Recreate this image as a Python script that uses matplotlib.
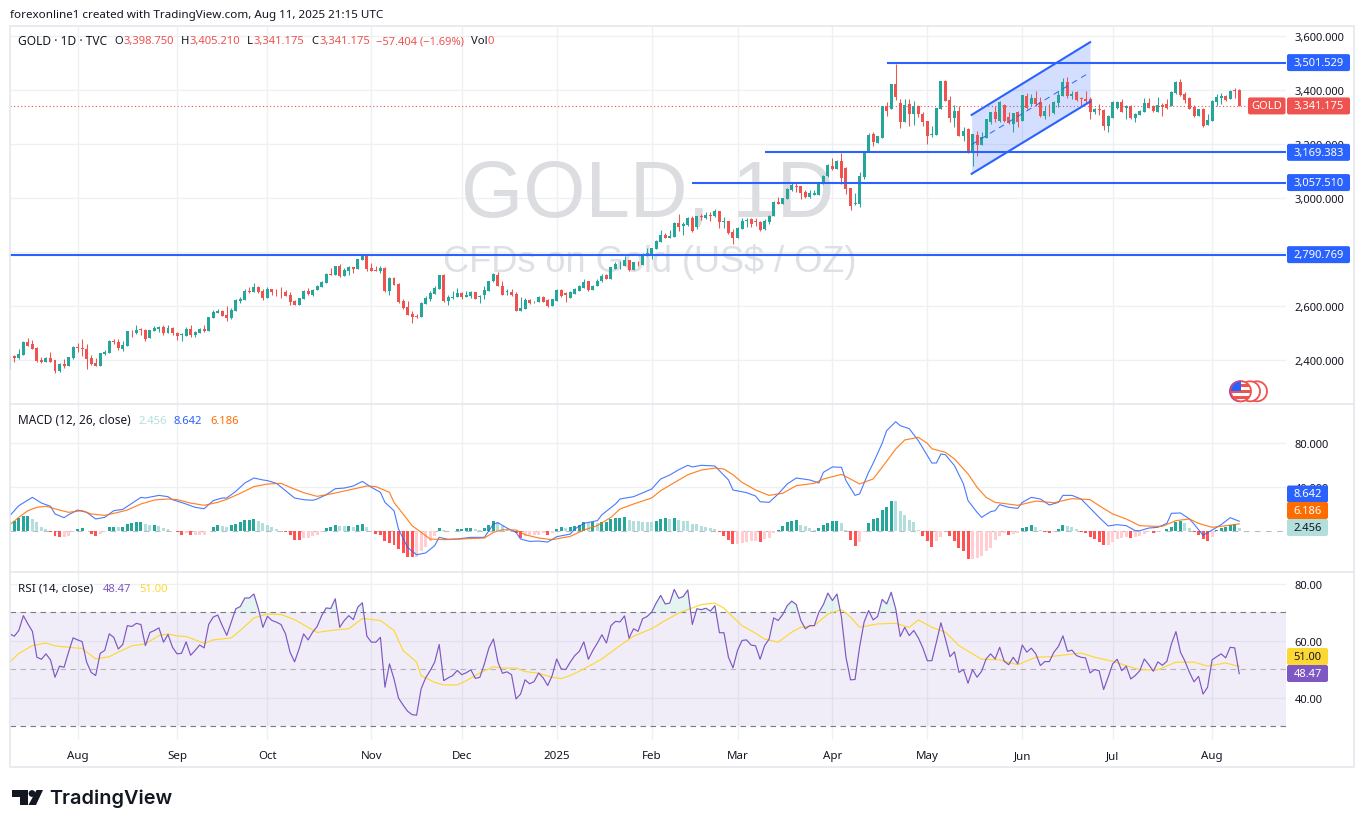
import matplotlib
matplotlib.use("Agg")
import matplotlib.pyplot as plt
import numpy as np
from matplotlib.patches import Circle, FancyBboxPatch, Polygon, Rectangle

plt.rcParams["font.family"] = ["Noto Sans", "DejaVu Sans"]

W, H = 1364, 829

opens = [
    2390, 2417, 2409, 2421, 2468, 2461, 2447, 2401, 2394, 2408,
    2399, 2361, 2385, 2379, 2409, 2450, 2446, 2442, 2408, 2390,
    2379, 2424, 2427, 2472, 2468, 2442, 2453, 2510, 2501, 2514,
    2512, 2483, 2509, 2516, 2523, 2501, 2520, 2501, 2494, 2490,
    2516, 2494, 2501, 2516, 2509, 2558, 2576, 2583, 2568, 2557,
    2583, 2620, 2623, 2657, 2653, 2671, 2657, 2631, 2664, 2657,
    2657, 2653, 2642, 2620, 2605, 2627, 2657, 2642, 2660, 2671,
    2686, 2720, 2716, 2749, 2712, 2731, 2745, 2738, 2771, 2790,
    2742, 2734, 2731, 2742, 2657, 2705, 2683, 2620, 2597, 2572,
    2564, 2560, 2609, 2627, 2646, 2664, 2716, 2620, 2632, 2635,
    2649, 2635, 2637, 2651, 2633, 2643, 2657, 2692, 2717, 2676,
    2652, 2652, 2646, 2584, 2590, 2623, 2614, 2617, 2634, 2622,
    2602, 2621, 2659, 2647, 2631, 2646, 2658, 2667, 2692, 2660,
    2675, 2692, 2716, 2701, 2739, 2755, 2749, 2771, 2734, 2760,
    2753, 2794, 2790, 2810, 2839, 2864, 2854, 2855, 2908, 2896,
    2901, 2927, 2892, 2933, 2926, 2938, 2932, 2953, 2912, 2916,
    2875, 2853, 2886, 2914, 2921, 2916, 2912, 2885, 2912, 2932,
    2986, 2979, 2997, 3030, 3045, 3043, 3023, 3004, 3013, 3013,
    3052, 3080, 3119, 3106, 3138, 3113, 3038, 2978, 2979, 3077,
    3170, 3236, 3204, 3224, 3340, 3328, 3424, 3352, 3283, 3347,
    3313, 3342, 3312, 3286, 3234, 3234, 3330, 3435, 3363, 3296,
    3323, 3229, 3255, 3170, 3234, 3197, 3224, 3283, 3318, 3287,
    3345, 3299, 3275, 3318, 3287, 3379, 3347, 3371, 3357, 3303,
    3324, 3315, 3352, 3379, 3429, 3379, 3392, 3369, 3365, 3367,
    3320, 3330, 3326, 3266, 3297, 3332, 3357, 3332, 3340, 3297,
    3309, 3320, 3352, 3342, 3320, 3345, 3349, 3340, 3388, 3431,
    3386, 3369, 3337, 3305, 3330, 3271, 3286, 3357, 3369, 3379,
    3365, 3400, 3398.75,
]
highs = [
    2415, 2420, 2442, 2472, 2483, 2475, 2448, 2412, 2412, 2431,
    2400, 2390, 2405, 2412, 2452, 2464, 2479, 2461, 2420, 2409,
    2427, 2437, 2474, 2479, 2479, 2473, 2509, 2511, 2531, 2520,
    2516, 2512, 2527, 2527, 2531, 2531, 2523, 2506, 2501, 2523,
    2531, 2509, 2520, 2531, 2560, 2586, 2590, 2586, 2601, 2594,
    2627, 2634, 2664, 2671, 2686, 2675, 2664, 2671, 2664, 2664,
    2671, 2660, 2653, 2623, 2631, 2660, 2668, 2664, 2679, 2694,
    2723, 2742, 2749, 2757, 2742, 2749, 2745, 2775, 2792, 2792,
    2760, 2749, 2749, 2745, 2708, 2708, 2686, 2627, 2620, 2583,
    2572, 2616, 2638, 2657, 2675, 2716, 2720, 2642, 2655, 2668,
    2654, 2655, 2657, 2653, 2643, 2676, 2692, 2723, 2726, 2694,
    2664, 2662, 2652, 2633, 2630, 2628, 2621, 2637, 2638, 2626,
    2627, 2662, 2664, 2654, 2658, 2667, 2679, 2699, 2695, 2678,
    2699, 2718, 2718, 2746, 2763, 2768, 2787, 2771, 2764, 2769,
    2797, 2815, 2815, 2845, 2881, 2871, 2882, 2910, 2942, 2910,
    2929, 2935, 2935, 2940, 2950, 2948, 2958, 2953, 2929, 2916,
    2886, 2893, 2926, 2928, 2928, 2928, 2914, 2921, 2938, 2990,
    3004, 3002, 3037, 3056, 3059, 3044, 3030, 3030, 3030, 3056,
    3085, 3127, 3149, 3140, 3167, 3115, 3038, 3020, 3098, 3173,
    3240, 3244, 3229, 3340, 3355, 3424, 3498, 3367, 3365, 3367,
    3361, 3345, 3320, 3286, 3268, 3334, 3435, 3438, 3379, 3345,
    3340, 3262, 3259, 3238, 3250, 3246, 3291, 3320, 3342, 3360,
    3348, 3318, 3315, 3322, 3382, 3389, 3386, 3398, 3373, 3342,
    3348, 3360, 3398, 3445, 3447, 3398, 3395, 3373, 3397, 3373,
    3332, 3347, 3330, 3308, 3358, 3361, 3365, 3345, 3344, 3315,
    3325, 3369, 3369, 3345, 3373, 3352, 3365, 3396, 3435, 3439,
    3392, 3373, 3345, 3330, 3332, 3312, 3362, 3386, 3389, 3382,
    3400, 3409, 3405.21,
]
lows = [
    2368, 2395, 2403, 2420, 2453, 2442, 2395, 2388, 2392, 2394,
    2353, 2358, 2373, 2379, 2406, 2431, 2414, 2366, 2383, 2379,
    2379, 2420, 2425, 2461, 2438, 2435, 2453, 2486, 2498, 2495,
    2472, 2483, 2509, 2506, 2494, 2501, 2494, 2475, 2472, 2490,
    2486, 2486, 2501, 2505, 2509, 2557, 2576, 2562, 2546, 2553,
    2583, 2612, 2623, 2649, 2653, 2649, 2623, 2631, 2642, 2638,
    2631, 2638, 2605, 2605, 2605, 2627, 2642, 2638, 2660, 2671,
    2686, 2716, 2716, 2708, 2712, 2716, 2723, 2738, 2771, 2731,
    2731, 2731, 2723, 2653, 2642, 2679, 2612, 2590, 2568, 2538,
    2557, 2560, 2609, 2620, 2646, 2664, 2616, 2605, 2627, 2635,
    2625, 2635, 2630, 2625, 2612, 2627, 2657, 2689, 2675, 2643,
    2643, 2637, 2584, 2584, 2590, 2609, 2610, 2615, 2614, 2598,
    2602, 2618, 2633, 2617, 2631, 2646, 2658, 2667, 2657, 2660,
    2673, 2689, 2699, 2701, 2737, 2738, 2749, 2731, 2734, 2748,
    2753, 2787, 2773, 2810, 2837, 2852, 2852, 2855, 2880, 2865,
    2898, 2876, 2886, 2920, 2923, 2917, 2929, 2889, 2891, 2866,
    2831, 2852, 2884, 2893, 2892, 2898, 2880, 2881, 2905, 2932,
    2979, 2979, 2997, 3028, 3022, 2997, 3002, 3002, 3011, 3013,
    3052, 3077, 3104, 3106, 3052, 3016, 2956, 2975, 2967, 3071,
    3170, 3194, 3204, 3224, 3303, 3328, 3363, 3261, 3283, 3266,
    3271, 3300, 3266, 3201, 3225, 3234, 3330, 3361, 3283, 3262,
    3229, 3213, 3167, 3120, 3155, 3197, 3224, 3275, 3281, 3281,
    3280, 3276, 3244, 3265, 3287, 3330, 3340, 3340, 3299, 3293,
    3303, 3313, 3336, 3379, 3370, 3365, 3361, 3340, 3349, 3293,
    3312, 3308, 3252, 3246, 3297, 3330, 3318, 3291, 3292, 3283,
    3309, 3320, 3334, 3319, 3320, 3305, 3330, 3340, 3385, 3379,
    3352, 3328, 3299, 3305, 3265, 3271, 3286, 3340, 3349, 3360,
    3365, 3370, 3341.175,
]
closes = [
    2410, 2409, 2424, 2468, 2453, 2442, 2398, 2394, 2408, 2394,
    2361, 2387, 2379, 2412, 2450, 2447, 2440, 2405, 2387, 2379,
    2427, 2431, 2472, 2469, 2446, 2457, 2509, 2507, 2511, 2511,
    2479, 2512, 2520, 2523, 2501, 2520, 2501, 2491, 2495, 2516,
    2493, 2505, 2516, 2509, 2560, 2579, 2583, 2564, 2557, 2586,
    2623, 2627, 2657, 2654, 2671, 2654, 2631, 2664, 2653, 2655,
    2655, 2638, 2616, 2605, 2631, 2657, 2644, 2660, 2675, 2690,
    2720, 2717, 2749, 2711, 2734, 2745, 2738, 2775, 2790, 2738,
    2731, 2732, 2742, 2657, 2705, 2679, 2616, 2594, 2568, 2560,
    2559, 2612, 2631, 2649, 2668, 2716, 2620, 2634, 2634, 2649,
    2635, 2642, 2651, 2628, 2636, 2659, 2692, 2718, 2675, 2643,
    2654, 2642, 2584, 2594, 2623, 2610, 2617, 2635, 2616, 2600,
    2625, 2659, 2636, 2643, 2651, 2663, 2673, 2691, 2659, 2675,
    2695, 2712, 2699, 2746, 2757, 2757, 2771, 2733, 2764, 2758,
    2795, 2797, 2815, 2843, 2864, 2854, 2860, 2908, 2892, 2905,
    2927, 2879, 2932, 2930, 2938, 2935, 2953, 2911, 2914, 2870,
    2853, 2891, 2916, 2918, 2905, 2912, 2882, 2916, 2935, 2987,
    2979, 3001, 3035, 3049, 3041, 3019, 3004, 3019, 3018, 3056,
    3083, 3123, 3107, 3139, 3075, 3034, 2972, 2982, 3082, 3173,
    3234, 3207, 3229, 3340, 3323, 3424, 3374, 3283, 3345, 3313,
    3342, 3312, 3283, 3231, 3236, 3334, 3435, 3361, 3296, 3321,
    3231, 3249, 3170, 3238, 3197, 3225, 3291, 3318, 3291, 3357,
    3287, 3278, 3315, 3283, 3382, 3333, 3371, 3347, 3305, 3323,
    3321, 3357, 3382, 3429, 3379, 3386, 3362, 3366, 3361, 3318,
    3330, 3325, 3268, 3303, 3355, 3355, 3318, 3340, 3296, 3312,
    3323, 3351, 3335, 3321, 3345, 3336, 3332, 3394, 3431, 3382,
    3362, 3330, 3305, 3328, 3268, 3288, 3360, 3373, 3379, 3363,
    3398, 3398, 3341.175,
]

macd_hist = [
    9.2, 9.2, 11.6, 13.1, 13.1, 11.0, 8.2, 3.7, 1.5, -1.2,
    -4.9, -5.8, -5.8, -4.6, -1.5, 1.5, 2.4, -0.6, -3.1, -4.6,
    -2.7, -1.5, 3.1, 3.7, 3.1, 3.1, 6.1, 7.0, 7.9, 7.9,
    6.1, 4.9, 4.9, 4.0, 2.4, 1.8, 0.1, -1.5, -3.7, -2.1,
    -4.0, -4.0, -3.9, -3.8, 0.1, 3.7, 5.5, 4.3, 3.7, 4.9,
    6.1, 7.6, 10.1, 10.2, 10.7, 9.2, 6.7, 5.5, 3.7, 1.5,
    -0.3, -1.5, -4.3, -8.2, -8.5, -6.7, -6.6, -5.2, -4.0, -1.5,
    2.4, 3.7, 5.2, 4.3, 4.2, 4.3, 3.7, 5.2, 6.1, 3.1,
    -0.6, -3.1, -3.7, -9.8, -11.0, -12.8, -16.8, -20.7, -23.8, -24.4,
    -24.3, -18.3, -14.6, -9.8, -4.6, 2.4, 0.6, -0.6, -0.5, 1.5,
    1.6, 2.1, 2.4, 1.2, 0.9, 2.4, 5.5, 9.2, 7.6, 4.3,
    1.5, -0.6, -2.4, -6.7, -4.6, -4.0, -3.9, -3.8, -2.1, -3.7,
    -2.1, 1.8, 3.1, 2.4, 3.7, 4.6, 5.5, 7.9, 7.3, 7.6,
    7.3, 7.9, 8.2, 10.7, 11.6, 11.7, 12.2, 9.8, 9.2, 8.5,
    8.2, 8.1, 7.6, 9.2, 11.0, 11.6, 11.0, 11.5, 9.8, 9.2,
    8.5, 6.1, 6.0, 4.3, 3.1, 2.7, 1.5, -0.9, -4.6, -8.5,
    -12.2, -12.2, -11.3, -10.1, -9.2, -9.2, -10.1, -7.6, -6.7, -2.4,
    0.9, 4.0, 7.6, 9.2, 9.8, 5.5, 4.3, 2.4, 0.9, 2.4,
    5.2, 7.3, 8.5, 8.6, 6.7, 0.6, -8.5, -13.7, -10.7, -1.5,
    6.7, 10.7, 11.6, 18.9, 22.0, 27.5, 26.8, 18.3, 14.6, 9.8,
    7.6, 0.9, -4.6, -9.8, -15.3, -9.2, -5.5, -0.6, -4.6, -9.2,
    -15.9, -18.9, -25.9, -25.9, -25.0, -22.9, -18.3, -15.9, -8.5, -4.6,
    -2.4, -3.7, -3.1, -2.4, 2.4, 3.7, 4.9, 3.7, 0.6, -1.5,
    -2.4, -1.5, 1.2, 5.5, 4.3, 3.1, 1.5, -0.9, -2.4, -5.5,
    -7.6, -10.7, -12.8, -12.8, -10.7, -7.6, -6.7, -6.1, -6.7, -6.1,
    -4.6, -3.1, -1.5, -2.4, -0.9, -0.6, 1.5, 3.7, 7.6, 9.2,
    6.7, 2.4, -1.5, -4.0, -7.6, -9.2, -5.5, 0.9, 2.4, 3.1,
    4.9, 6.1, 2.456,
]
macd_bars = [
    0, 2, 5, 7, 9, 10, 12, 13, 15, 17, 19, 21, 23, 25, 27, 29, 30, 33, 35, 36,
    39, 41, 43, 45, 47, 48, 50, 52, 54, 56, 57, 59, 61, 63, 65, 67, 68, 70, 72, 74,
    76, 78, 80, 82, 83, 85, 86, 88, 90, 92, 94, 95, 97, 99, 102, 105, 107, 108, 110, 112,
    113, 115, 117, 119, 121, 124, 125, 127, 130, 131, 134, 135, 138, 142, 144, 146, 148, 150, 151, 153,
    156, 157, 159, 160, 163, 165, 166, 168, 170, 172, 174, 177, 179, 180, 182, 184, 185, 187, 188, 190,
    191, 193, 194, 196, 197, 199, 201, 204, 205, 206, 207, 209, 211, 212, 214, 215, 217, 218, 219, 221,
    223, 224, 226, 228, 230, 232, 233, 235, 237, 239, 241, 243, 245, 247, 249, 250, 252, 254, 256, 257,
    259, 261, 262, 264, 266, 268, 270, 272,
]
macd_line = [
    13.7, 22.9, 30.5, 25.3, 22.3, 15.3, 11.9, 14.6, 18.9, 16.8, 10.7, 12.2, 18.3, 19.5, 25.0, 30.5, 29.9, 32.3, 31.1, 28.4,
    24.4, 21.4, 20.1, 27.5, 29.9, 29.9, 36.0, 43.6, 48.2, 46.4, 45.8, 43.3, 36.6, 29.9, 28.4, 27.8, 29.0, 32.9, 38.4, 39.0,
    40.9, 45.1, 39.7, 35.1, 25.9, 18.3, 1.5, -15.3, -22.0, -20.4, -13.7, -6.1, -7.9, -7.6, -6.1, -6.1, 6.1, 7.3, 2.4, -1.5,
    -7.6, -9.8, -9.5, -10.4, -5.5, -3.1, 1.5, 6.7, 9.2, 14.6, 24.4, 29.0, 31.1, 38.1, 47.3, 50.9, 55.8, 59.8, 58.3, 59.8,
    59.2, 54.9, 46.4, 37.2, 34.8, 31.7, 26.5, 25.9, 33.6, 42.7, 48.2, 46.4, 43.6, 53.4, 58.3, 58.0, 45.8, 32.3, 33.6, 53.4,
    61.6, 79.9, 91.5, 99.7, 96.1, 93.3, 82.4, 61.9, 61.9, 70.2, 69.5, 59.5, 42.7, 27.5, 16.8, 12.2, 17.4, 18.3, 23.8, 21.4,
    20.4, 25.9, 30.5, 29.0, 23.5, 25.9, 32.3, 32.3, 29.0, 20.7, 12.2, 4.3, 5.5, 4.6, 0.0, 0.0, 2.4, 3.1, 6.7, 15.9,
    16.2, 10.7, 6.1, -4.3, 0.6, 5.5, 11.9, 8.642,
]
signal_bars = [
    0, 2, 4, 6, 8, 11, 13, 16, 18, 21, 24, 26, 29, 32, 35, 37, 40, 43, 46, 48,
    51, 54, 57, 60, 62, 65, 68, 71, 76, 79, 81, 84, 85, 87, 89, 91, 93, 96, 100, 105,
    107, 109, 112, 114, 117, 120, 124, 127, 130, 133, 135, 138, 142, 144, 147, 150, 153, 156, 158, 160,
    162, 165, 168, 171, 174, 178, 180, 184, 186, 188, 191, 193, 196, 198, 201, 203, 204, 207, 209, 212,
    214, 216, 218, 223, 227, 231, 235, 239, 241, 244, 247, 250, 253, 255, 258, 261, 263, 266, 268, 272,
]
signal_line = [
    5.5, 12.2, 18.3, 21.4, 22.3, 18.9, 16.8, 18.3, 15.3, 14.0, 16.8, 18.9, 24.4, 28.1, 29.0, 28.4, 25.3, 23.2, 25.9, 28.7,
    34.2, 40.3, 42.7, 43.3, 39.7, 34.8, 31.4, 33.6, 38.1, 40.9, 40.3, 35.1, 25.9, 15.3, 4.6, -1.5, -7.6, -8.2, -7.6, -6.7,
    -1.5, 0.9, 0.6, -3.7, -6.7, -8.2, -5.2, 0.6, 4.6, 12.2, 19.8, 24.4, 29.9, 36.6, 43.9, 51.2, 55.5, 57.3, 56.4, 51.2,
    44.2, 37.2, 32.3, 34.2, 41.2, 43.3, 47.3, 51.5, 47.3, 42.7, 47.3, 58.0, 74.7, 83.0, 85.4, 79.9, 75.0, 71.7, 65.6, 51.9,
    39.7, 30.5, 25.9, 23.2, 27.1, 25.6, 29.3, 28.4, 22.9, 15.3, 10.7, 4.6, 4.0, 4.0, 9.2, 10.7, 6.7, 3.1, 4.0, 6.186,
]

rsi = [
    62.4, 61.6, 63.6, 68.8, 65.9, 63.3, 54.2, 53.5, 55.4, 53.3,
    47.2, 51.1, 50.7, 56.0, 61.0, 60.3, 59.7, 52.5, 48.9, 47.8,
    55.6, 56.6, 62.4, 61.2, 57.1, 58.7, 65.3, 65.0, 66.1, 65.7,
    58.3, 62.9, 63.6, 64.5, 59.5, 62.2, 57.7, 55.4, 55.6, 59.6,
    54.9, 56.6, 58.5, 57.5, 65.7, 68.3, 69.0, 65.3, 61.9, 66.5,
    71.2, 72.0, 75.0, 75.0, 76.4, 71.2, 64.7, 68.6, 67.1, 66.5,
    65.7, 62.4, 56.0, 52.6, 57.1, 62.4, 60.3, 63.0, 65.0, 68.8,
    71.5, 71.3, 74.7, 64.7, 67.1, 68.8, 67.4, 71.8, 73.3, 61.6,
    59.5, 59.5, 61.2, 43.7, 51.9, 46.6, 39.9, 37.5, 35.3, 34.1,
    33.9, 43.1, 47.0, 49.5, 52.5, 58.7, 46.0, 47.0, 47.8, 49.6,
    48.1, 48.8, 49.8, 46.8, 47.2, 51.9, 57.5, 60.6, 52.5, 48.6,
    49.1, 48.1, 39.6, 41.3, 46.3, 44.9, 45.7, 48.7, 47.0, 44.3,
    47.8, 53.6, 50.1, 49.9, 52.5, 54.8, 56.3, 59.6, 53.5, 56.6,
    59.2, 62.1, 59.2, 65.3, 66.8, 66.6, 68.7, 60.9, 64.2, 63.3,
    67.7, 68.5, 70.0, 73.2, 75.9, 72.9, 73.2, 78.0, 74.9, 75.5,
    77.8, 65.7, 71.2, 70.9, 71.4, 70.4, 72.3, 62.8, 62.8, 54.2,
    50.5, 56.6, 60.1, 60.3, 58.5, 58.2, 53.5, 58.3, 60.6, 68.0,
    67.1, 69.2, 72.3, 73.9, 72.7, 67.1, 64.2, 65.3, 65.3, 70.0,
    72.7, 76.7, 74.1, 76.4, 68.3, 54.2, 46.3, 46.4, 57.7, 66.5,
    70.6, 67.3, 68.5, 74.5, 72.9, 77.0, 71.2, 61.5, 64.7, 61.8,
    63.6, 61.0, 57.5, 53.0, 53.0, 59.5, 66.3, 60.6, 54.4, 56.1,
    48.9, 49.9, 45.1, 49.9, 47.2, 49.3, 53.6, 55.4, 53.6, 57.7,
    52.8, 51.6, 54.2, 51.9, 58.5, 56.0, 57.4, 55.4, 51.3, 52.7,
    52.7, 56.0, 58.0, 61.7, 56.3, 56.7, 54.8, 54.2, 54.0, 48.7,
    49.9, 49.5, 42.9, 47.2, 51.9, 53.5, 49.5, 51.1, 46.6, 47.8,
    49.5, 53.6, 51.6, 49.3, 52.6, 51.4, 52.8, 58.9, 63.2, 56.0,
    52.8, 48.9, 45.6, 47.5, 41.3, 43.7, 53.3, 54.4, 55.4, 54.0,
    57.7, 57.5, 48.47,
]
rsi_ma_bars = [
    0, 2, 5, 7, 8, 10, 13, 16, 19, 22, 24, 27, 30, 33, 35, 37, 39, 43, 45, 49,
    51, 54, 57, 60, 63, 66, 68, 72, 75, 78, 82, 85, 87, 90, 91, 94, 96, 99, 101, 104,
    107, 109, 112, 114, 117, 120, 122, 124, 127, 131, 135, 138, 142, 145, 148, 151, 153, 156, 158, 160,
    162, 165, 167, 170, 173, 175, 178, 181, 184, 186, 188, 192, 196, 199, 201, 204, 207, 210, 213, 215,
    219, 223, 227, 230, 237, 240, 244, 247, 250, 254, 258, 262, 265, 269, 272,
]
rsi_ma = [
    52.5, 55.6, 58.3, 58.9, 59.2, 58.2, 57.7, 57.3, 53.6, 54.4, 56.0, 58.2, 58.9, 61.8, 62.4, 61.7, 61.5, 59.1, 60.3, 61.0,
    63.6, 68.0, 69.4, 69.2, 67.4, 64.7, 62.9, 63.8, 64.2, 67.8, 67.1, 63.6, 56.6, 52.5, 47.8, 45.4, 44.5, 44.5, 46.0, 48.7,
    50.9, 50.4, 50.4, 49.2, 48.6, 47.2, 46.7, 47.8, 50.1, 53.6, 58.3, 61.6, 64.2, 67.1, 69.7, 71.5, 72.7, 73.2, 71.4, 68.3,
    65.3, 62.6, 60.6, 59.5, 63.0, 64.7, 65.3, 69.4, 70.9, 68.3, 64.7, 65.9, 66.1, 64.7, 67.3, 64.7, 63.0, 58.3, 55.4, 53.5,
    53.3, 51.6, 54.2, 54.4, 55.7, 54.2, 52.8, 51.3, 49.8, 49.8, 52.5, 52.5, 51.1, 52.2, 51.0,
]

month_bars = [15, 37, 57, 80, 100, 121, 142, 161, 182, 203, 224, 244, 266]
month_labels = ["Aug", "Sep", "Oct", "Nov", "Dec", "2025", "Feb", "Mar", "Apr", "May", "Jun", "Jul", "Aug"]

price_ticks = [2400, 2600, 2800, 3000, 3200, 3400, 3600]
price_tick_labels = ["2,400.000", "2,600.000", "", "3,000.000", "3,200.000", "3,400.000", "3,600.000"]
macd_ticks = [40, 80]
macd_tick_labels = ["40.000", "80.000"]
rsi_ticks = [40, 60, 80]
rsi_tick_labels = ["40.00", "60.00", "80.00"]

level_prices = [3501.529, 3169.383, 3057.510, 2790.769]
level_start_bars = [194, 167, 151, 0]
last_price = 3341.175

channel_bars = [212.8, 239]
channel_upper = [3308, 3577]
channel_mid = [3198, 3466]
channel_lower = [3090, 3357]

UP = "#26a69a"
DOWN = "#ef5350"
BLUE = "#2962ff"
ORANGE = "#ff6d00"
PURPLE = "#7e57c2"
YELLOW = "#fdd835"
GRID = "#eef0f4"
TEXT = "#131722"
FRAME = "#e6e8ee"
XLIM = (0.044, 282.35)


def pane(fig, top, bottom, ylim):
    ax = fig.add_axes([10 / W, 1 - bottom / H, 1276 / W, (bottom - top) / H])
    ax.set_xlim(*XLIM)
    ax.set_ylim(*ylim)
    ax.patch.set_alpha(0)
    for spine in ax.spines.values():
        spine.set_visible(False)
    ax.set_xticks(month_bars)
    ax.grid(True, color=GRID, lw=1.0)
    ax.set_axisbelow(True)
    ax.yaxis.tick_right()
    ax.tick_params(length=0, labelsize=8.0, labelcolor=TEXT, labelbottom=False, pad=6.3)
    return ax


def draw_candles(ax):
    bars = np.arange(len(closes))
    o, h, l, c = map(np.asarray, (opens, highs, lows, closes))
    colors = np.where(c >= o, UP, DOWN)
    ax.vlines(bars, l, h, colors=colors, lw=0.75, zorder=3)
    ax.bar(bars, np.maximum(np.abs(c - o), 2.5), bottom=np.minimum(o, c), width=0.66, color=colors, zorder=3, lw=0)


def draw_levels(ax):
    ax.axhline(last_price, color=DOWN, lw=0.8, ls=(0, (1, 2.2)), zorder=2)
    ax.fill_between(channel_bars, channel_lower, channel_upper, color=BLUE, alpha=0.2, lw=0, zorder=2)
    ax.plot(channel_bars, channel_upper, color=BLUE, lw=1.5, zorder=4)
    ax.plot(channel_bars, channel_lower, color=BLUE, lw=1.5, zorder=4)
    ax.plot(channel_bars, channel_mid, color=BLUE, lw=0.7, ls=(0, (6, 5)), zorder=4)
    for price, start in zip(level_prices, level_start_bars):
        ax.hlines(price, start, XLIM[1], color=BLUE, lw=1.5, zorder=4)


def hist_colors(values):
    colors = []
    for i, v in enumerate(values):
        prev = values[i - 1] if i else v
        if v >= 0:
            colors.append("#26a69a" if v >= prev else "#b2dfdb")
        else:
            colors.append("#ff5252" if v < prev else "#ffcdd2")
    return colors


def tag(ov, x0, x1, yc, text, bg, fg="white", height=17):
    ov.add_patch(FancyBboxPatch((x0 + 1, yc - height / 2 + 1), x1 - x0 - 2, height - 2,
                                boxstyle="round,pad=1,rounding_size=2", fc=bg, ec="none", zorder=10))
    ov.text((x0 + x1) / 2, yc - 0.3, text, color=fg, fontsize=8.0, ha="center", va="center", zorder=11)


def px_y(ax, value):
    return H - ax.transData.transform((0, value))[1]


def legend_row(ov, y, parts):
    for x, text, color, size in parts:
        ov.text(x, y, text, color=color, fontsize=size, ha="left", va="center")


def draw_flag(ov):
    cx, cy, r = 1241, 392.3, 10
    for x, edge in [(1257, DOWN), (1250, DOWN), (1240, "#9c27b0")]:
        ov.add_patch(Circle((x, cy), r, fc="white", ec=edge, lw=1.3, zorder=5))
    face = Circle((cx, cy), r, fc="white", ec=DOWN, lw=1.3, zorder=6)
    ov.add_patch(face)
    for y in (cy - 7, cy - 1, cy + 5):
        stripe = Rectangle((cx - r, y), 2 * r, 3, fc=DOWN, ec="none", zorder=6)
        ov.add_patch(stripe)
        stripe.set_clip_path(face)
    canton = Rectangle((cx - r, cy - r), r, r, fc="#2962ff", ec="none", zorder=7)
    ov.add_patch(canton)
    canton.set_clip_path(face)


def draw_logo(ov):
    ov.add_patch(Polygon([(12, 791), (28, 791), (28, 806), (20, 806), (20, 798), (12, 798)], fc=TEXT, ec="none"))
    ov.add_patch(Circle((32, 794.5), 3.4, fc=TEXT, ec="none"))
    ov.add_patch(Polygon([(36.5, 791), (43, 791), (36, 806), (28.5, 806)], fc=TEXT, ec="none"))
    ov.text(49, 798.5, "TradingView", fontsize=14.3, family="Inter", fontweight="semibold", color=TEXT,
            ha="left", va="center")


def main():
    fig = plt.figure(figsize=(W / 100, H / 100), dpi=100, facecolor="white")

    ax_price = pane(fig, 27, 405, (2238, 3637))
    ax_macd = pane(fig, 405, 573, (-37.8, 115.9))
    ax_rsi = pane(fig, 573, 741, (25.2, 84.1))

    # main pane
    ax_price.set_yticks(price_ticks, labels=price_tick_labels)
    ax_price.text(141.2, 3008, "GOLD, 1D", fontsize=57.6, family="Liberation Sans", color="#dcdde0",
                  ha="center", va="center", zorder=1)
    ax_price.text(141.5, 2767, "CFDs on Gold (US$ / OZ)", fontsize=26, family="Liberation Sans", color="#dfe0e3",
                  ha="center", va="center", zorder=1)
    draw_candles(ax_price)
    draw_levels(ax_price)

    # macd pane
    ax_macd.set_yticks(macd_ticks, labels=macd_tick_labels)
    bars = np.arange(len(macd_hist))
    ax_macd.axhline(0, color="#787b86", lw=0.8, ls=(0, (5, 5)), alpha=0.5, zorder=1)
    ax_macd.bar(bars, macd_hist, width=0.66, color=hist_colors(macd_hist), lw=0, zorder=2)
    ax_macd.plot(macd_bars, macd_line, color=BLUE, lw=0.8, alpha=0.85, zorder=3)
    ax_macd.plot(signal_bars, signal_line, color=ORANGE, lw=0.85, alpha=0.85, zorder=3)

    # rsi pane
    ax_rsi.set_yticks(rsi_ticks, labels=rsi_tick_labels)
    ax_rsi.axhspan(30, 70, color=PURPLE, alpha=0.1, lw=0, zorder=1)
    for level, alpha in [(70, 1.0), (50, 0.5), (30, 1.0)]:
        ax_rsi.axhline(level, color="#787b86", lw=0.8, ls=(0, (5, 4)), alpha=alpha, zorder=2)
    rsi_bars = np.arange(len(rsi))
    rsi_arr = np.asarray(rsi)
    ax_rsi.fill_between(rsi_bars, 70, rsi_arr, where=rsi_arr > 70, interpolate=True, color=UP, alpha=0.12, lw=0,
                        zorder=2)
    ax_rsi.plot(rsi_ma_bars, rsi_ma, color=YELLOW, lw=0.85, zorder=3)
    ax_rsi.plot(rsi_bars, rsi, color=PURPLE, lw=0.85, zorder=4)
    ax_rsi.set_xticks(month_bars, labels=month_labels)
    ax_rsi.tick_params(axis="x", labelbottom=True, pad=7.5, labelsize=8.3)
    for label in ax_rsi.get_xticklabels():
        if label.get_text() == "2025":
            label.set_fontweight("bold")

    # everything around the panes, in picture pixels
    ov = fig.add_axes([0, 0, 1, 1], zorder=10)
    ov.set_xlim(0, W)
    ov.set_ylim(H, 0)
    ov.axis("off")
    ov.patch.set_alpha(0)

    ov.add_patch(Rectangle((10, 27), 1344, 741, fc="none", ec=FRAME, lw=1.2))
    ov.plot([10, 1354], [405, 405], color=FRAME, lw=1.2)
    ov.plot([10, 1354], [573, 573], color=FRAME, lw=1.2)

    ov.text(10, 15, "forexonline1 created with TradingView.com, Aug 11, 2025 21:15 UTC", color=TEXT, fontsize=8.4,
            ha="left", va="center")
    legend_row(ov, 41.5, [
        (18, "GOLD · 1D · TVC", TEXT, 8.6), (114, "O", TEXT, 8.1), (123, "3,398.750", DOWN, 8.1), (181, "H", TEXT, 8.1),
        (189.5, "3,405.210", DOWN, 8.1), (247, "L", TEXT, 8.1), (253, "3,341.175", DOWN, 8.1), (311, "C", TEXT, 8.1),
        (319, "3,341.175", DOWN, 8.1), (376, "−57.404 (−1.69%)", DOWN, 8.0), (471, "Vol", TEXT, 8.1), (487, "0", DOWN, 8.1),
    ])
    legend_row(ov, 421, [
        (18, "MACD (12, 26, close)", TEXT, 8.5), (138, "2.456", "#b2dfdb", 8.1), (174, "8.642", BLUE, 8.1),
        (210, "6.186", ORANGE, 8.1),
    ])
    legend_row(ov, 589, [
        (18, "RSI (14, close)", TEXT, 8.4), (103, "48.47", PURPLE, 8.1), (139.5, "51.00", YELLOW, 8.1),
    ])

    for price, text in zip(level_prices, ["3,501.529", "3,169.383", "3,057.510", "2,790.769"]):
        tag(ov, 1287, 1350, px_y(ax_price, price), text, BLUE)
    y_last = px_y(ax_price, last_price)
    tag(ov, 1248, 1285.5, y_last, "GOLD", DOWN)
    tag(ov, 1287, 1350, y_last, "3,341.175", DOWN)

    tag(ov, 1287, 1328, 495, "8.642", BLUE)
    tag(ov, 1287, 1328, 511.5, "6.186", ORANGE)
    tag(ov, 1287, 1328, 528.5, "2.456", "#b2dfdb", TEXT)
    tag(ov, 1287, 1328, 657.5, "51.00", YELLOW, TEXT)
    tag(ov, 1287, 1328, 674.5, "48.47", PURPLE)

    draw_flag(ov)
    draw_logo(ov)

    fig.savefig("out.png", dpi=100)
    plt.close(fig)


if __name__ == "__main__":
    main()
